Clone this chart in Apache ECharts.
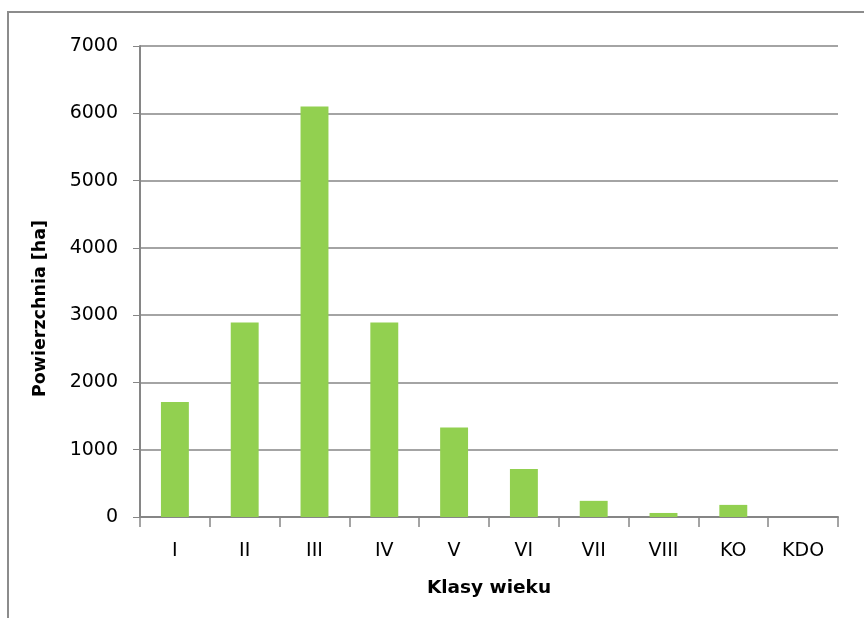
<!DOCTYPE html>
<html>
<head>
<meta charset="utf-8">
<script src="https://cdn.jsdelivr.net/npm/echarts@6/dist/echarts.min.js"></script>
<style>
  html, body { margin: 0; padding: 0; background: #fff; }
  #frame { position: absolute; left: 7px; top: 11px; width: 900px; height: 700px; border: 2px solid #8c8c8c; box-sizing: border-box; }
  #main { position: absolute; left: 0; top: 0; width: 864px; height: 618px; }
</style>
</head>
<body>
<div id="frame"></div>
<div id="main"></div>
<script>
// klasy wieku i powierzchnia
var categories = ['I', 'II', 'III', 'IV', 'V', 'VI', 'VII', 'VIII', 'KO', 'KDO'];
var area = [1710, 2890, 6100, 2890, 1330, 715, 240, 60, 180, 0];
var yTicks = [0, 1000, 2000, 3000, 4000, 5000, 6000, 7000];

var myChart = echarts.init(document.getElementById('main'));
var labelFont = 'DejaVu Sans, sans-serif';
myChart.setOption({
  animation: false,
  grid: { left: 140, right: 26, top: 46, bottom: 101 },
  xAxis: {
    type: 'category',
    data: categories,
    name: 'Klasy wieku',
    nameLocation: 'middle',
    nameGap: 62,
    nameTextStyle: { color: '#000', fontSize: 18.5, fontWeight: 'bold', fontFamily: labelFont },
    axisLine: { lineStyle: { color: '#868686', width: 2 } },
    axisTick: { show: true, length: 10, lineStyle: { color: '#868686', width: 1.5 } },
    axisLabel: { color: '#000', fontSize: 19, margin: 25, fontFamily: labelFont }
  },
  yAxis: {
    type: 'value',
    min: yTicks[0],
    max: yTicks[yTicks.length - 1],
    interval: 1000,
    name: 'Powierzchnia [ha]',
    nameLocation: 'middle',
    nameGap: 91,
    nameTextStyle: {
      color: '#000', fontSize: 17.5, fontWeight: 'bold', fontFamily: labelFont,
      padding: [0, 54, 0, 0]
    },
    axisLine: { show: true, lineStyle: { color: '#868686', width: 2 } },
    axisTick: { show: true, length: 7, lineStyle: { color: '#868686' } },
    splitLine: { lineStyle: { color: '#868686', width: 1.5 } },
    axisLabel: {
      color: '#000', fontSize: 19, margin: 22, fontFamily: labelFont,
      padding: [6, 0, 0, 0],
      formatter: function (v) { return String(v); }
    }
  },
  series: [{
    type: 'bar',
    data: area,
    barWidth: '40%',
    itemStyle: { color: '#92d050' }
  }]
});
</script>
</body>
</html>
